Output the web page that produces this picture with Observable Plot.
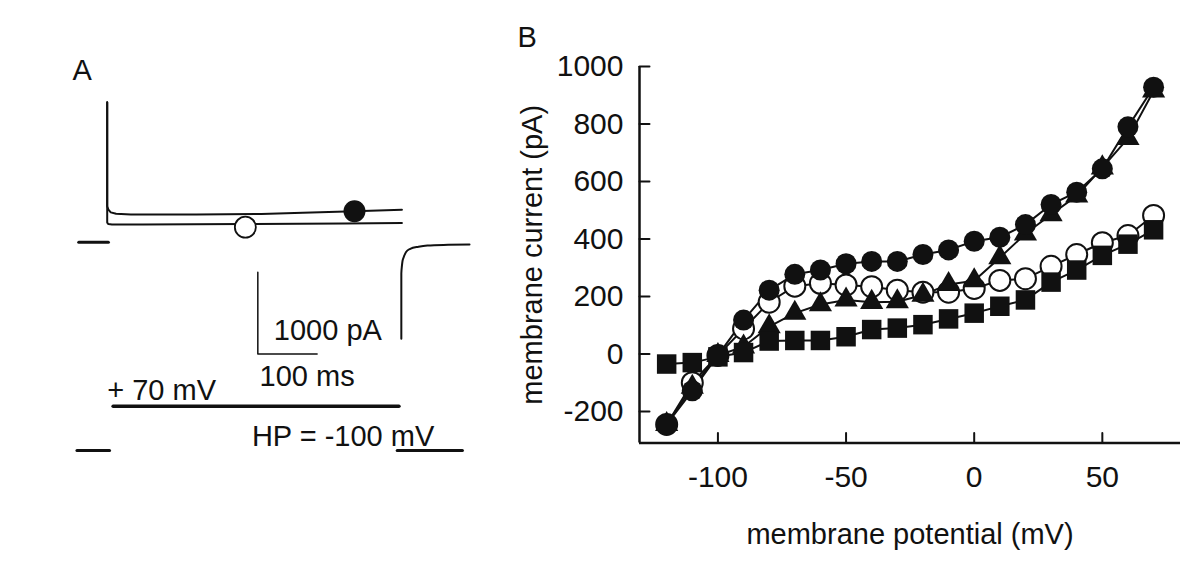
<!DOCTYPE html>
<html><head><meta charset="utf-8">
<script src="https://cdn.jsdelivr.net/npm/d3@7"></script>
<script src="https://cdn.jsdelivr.net/npm/@observablehq/plot@0.6"></script>
<style>
html,body{margin:0;padding:0;background:#fff;}
#wrap{position:relative;width:1200px;height:571px;overflow:hidden;background:#fff;}
#wrap svg{position:absolute;left:0;top:0;}
</style></head><body><div id="wrap"></div>
<script>
// ---------- Panel B: I-V relation ----------
const potential    = [-120,-110,-100,-90,-80,-70,-60,-50,-40,-30,-20,-10,0,10,20,30,40,50,60,70];
const filledCircle = [-245,-128,-5,118,222,277,292,314,322,322,346,362,392,406,450,520,563,644,790,928];
const openCircle   = [-245,-100,-5,88,180,236,246,240,234,222,215,215,228,256,262,305,346,387,412,482];
const triangle     = [-245,-115,-5,25,95,142,172,188,180,182,205,242,255,335,418,485,550,648,750,915];
const square       = [-35,-30,-10,5,45,47,47,60,85,90,102,122,142,166,188,250,292,343,382,432];
const xTicks = [-100,-50,0,50];
const yTicks = [-200,0,200,400,600,800,1000];
const xLabel = "membrane potential (mV)";
const yLabel = "membrane current (pA)";

// ---------- Panel A: current traces (ms, pA) ----------
const upperT = [0,0,2,6,15,40,150,260,330,417,497];
const upperI = [1714,440,400,365,348,339,339,345,360,379,397];
const lowerT = [0,0,2,8,60,233,400,497];
const lowerI = [1714,240,222,217,217,222,230,236];
const tailT  = [496,496,497,498,500,504,511,525,540,575,611];
const tailI  = [-1182,-383,-290,-230,-184,-120,-81,-55,-40,-32,-28];
const zeroT  = [-48,2];
const zeroI  = [0,0];
const markFilled = {t:417, i:379};
const markOpen   = {t:233, i:184};
const barT = [254,254,354];
const barI = [-367,-1367,-1367];
// voltage protocol (ms, mV)
const pulseT = [10,492], pulseV = [70,70];
const hpLeftT = [-51,4], hpRightT = [489,599], hpV = [-100,-100];

const FONT = "Liberation Sans, Arial, sans-serif";
const INK = "#111";
const wrap = document.getElementById("wrap");
const transparent = {background:"transparent", overflow:"visible", fontFamily: FONT};

const pts = (T, V) => T.map((t,i)=>({t, v:V[i]}));

// Panel A currents
const A1 = Plot.plot({
  width:1200, height:571, margin:0, style: transparent,
  x:{domain:[0,100], range:[106.7,166], axis:null},
  y:{domain:[0,1000], range:[241.7,160], axis:null},
  marks:[
    Plot.line(pts(upperT,upperI), {x:"t", y:"v", stroke:INK, strokeWidth:2}),
    Plot.line(pts(lowerT,lowerI), {x:"t", y:"v", stroke:INK, strokeWidth:2}),
    Plot.line(pts(tailT,tailI), {x:"t", y:"v", stroke:INK, strokeWidth:2, curve:"monotone-x"}),
    Plot.line(pts(zeroT,zeroI), {x:"t", y:"v", stroke:INK, strokeWidth:3}),
    Plot.line(pts(barT,barI), {x:"t", y:"v", stroke:INK, strokeWidth:1.5}),
    Plot.dot([markOpen], {x:"t", y:"i", r:10.5, fill:"white", stroke:INK, strokeWidth:1.8}),
    Plot.dot([markFilled], {x:"t", y:"i", r:11, fill:INK}),
    Plot.text(["1000 pA"], {x:281, y:-1081, text:d=>d, textAnchor:"start", fontSize:29, fontFamily:FONT, fill:INK}),
    Plot.text(["100 ms"], {x:257, y:-1652, text:d=>d, textAnchor:"start", fontSize:29, fontFamily:FONT, fill:INK}),
    Plot.text(["A"], {frameAnchor:"top-left", dx:72, dy:70, text:d=>d, textAnchor:"start", lineAnchor:"middle", fontSize:29, fontFamily:FONT, fill:INK})
  ]
});
wrap.appendChild(A1);

// Panel A voltage protocol
const A2 = Plot.plot({
  width:1200, height:571, margin:0, style: transparent,
  x:{domain:[0,100], range:[106.7,166], axis:null},
  y:{domain:[-100,70], range:[450,405.7], axis:null},
  marks:[
    Plot.line(pts(pulseT,pulseV), {x:"t", y:"v", stroke:INK, strokeWidth:3.5}),
    Plot.line(pts(hpLeftT,hpV), {x:"t", y:"v", stroke:INK, strokeWidth:3}),
    Plot.line(pts(hpRightT,hpV), {x:"t", y:"v", stroke:INK, strokeWidth:3}),
    Plot.text(["+ 70 mV"], {x:0, y:70, dy:-15, text:d=>d, textAnchor:"start", fontSize:29, fontFamily:FONT, fill:INK}),
    Plot.text(["HP = -100 mV"], {x:244, y:-100, dy:-14, text:d=>d, textAnchor:"start", fontSize:29, fontFamily:FONT, fill:INK})
  ]
});
wrap.appendChild(A2);

// Panel B
const rows = potential.map((v,i)=>({v, fc:filledCircle[i], oc:openCircle[i], tr:triangle[i], sq:square[i]}));
const xMin = -130.6, xMax = 80.5, yMin = -310, yMax = 1000;
const tickShape = {draw(ctx, l){ ctx.moveTo(0,0); ctx.lineTo(0,-l); }};
const B = Plot.plot({
  width:1200, height:571, style: transparent,
  marginLeft:639, marginRight:20, marginTop:66, marginBottom:128.4,
  x:{domain:[xMin,xMax], axis:null},
  y:{domain:[yMin,yMax], axis:null},
  marks:[
    Plot.ruleX([xMin], {stroke:INK, strokeWidth:2.5}),
    Plot.ruleY([yMin], {stroke:INK, strokeWidth:2.5}),
    Plot.vector(yTicks, {x:xMin, y:d=>d, rotate:90, length:10, anchor:"start", shape:tickShape, stroke:INK, strokeWidth:2}),
    Plot.vector(xTicks, {x:d=>d, y:yMin, rotate:0, length:10, anchor:"start", shape:tickShape, stroke:INK, strokeWidth:2}),
    Plot.axisY({ticks:yTicks, tickSize:0, tickPadding:16, tickFormat:d=>String(d), label:null, fontSize:30, fontFamily:FONT, color:INK}),
    Plot.axisX({ticks:xTicks, tickSize:0, tickPadding:23, tickFormat:d=>String(d), label:null, fontSize:30, fontFamily:FONT, color:INK}),
    Plot.text([xLabel], {frameAnchor:"bottom", dy:92, text:d=>d, textAnchor:"middle", lineAnchor:"middle", fontSize:29, fontFamily:FONT, fill:INK}),
    Plot.text([yLabel], {frameAnchor:"left", dx:-107, rotate:-90, text:d=>d, textAnchor:"middle", lineAnchor:"middle", fontSize:29, fontFamily:FONT, fill:INK}),
    Plot.text(["B"], {frameAnchor:"top-left", dx:-122, dy:-29, text:d=>d, textAnchor:"start", lineAnchor:"middle", fontSize:29, fontFamily:FONT, fill:INK}),
    Plot.line(rows, {x:"v", y:"oc", stroke:INK, strokeWidth:2}),
    Plot.line(rows, {x:"v", y:"tr", stroke:INK, strokeWidth:2}),
    Plot.line(rows, {x:"v", y:"sq", stroke:INK, strokeWidth:2}),
    Plot.line(rows, {x:"v", y:"fc", stroke:INK, strokeWidth:2}),
    Plot.dot(rows, {x:"v", y:"oc", symbol:"circle", r:10.5, fill:"white", stroke:INK, strokeWidth:2}),
    Plot.dot(rows, {x:"v", y:"tr", symbol:"triangle", r:8.6, fill:INK}),
    Plot.dot(rows, {x:"v", y:"fc", symbol:"circle", r:10.5, fill:INK}),
    Plot.dot(rows, {x:"v", y:"sq", symbol:"square", r:11, fill:INK})
  ]
});
wrap.appendChild(B);
</script></body></html>
